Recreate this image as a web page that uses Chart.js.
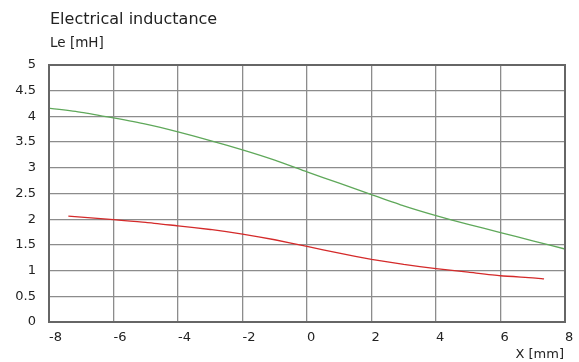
<!DOCTYPE html>
<html>
<head>
<meta charset="utf-8">
<script src="https://cdn.jsdelivr.net/npm/chart.js@4/dist/chart.umd.min.js"></script>
<style>
  html, body { margin: 0; padding: 0; background: #fff; }
  #wrap { width: 579px; height: 362px; position: relative; }
</style>
</head>
<body>
<div id="wrap"><canvas id="chart" width="579" height="362"></canvas></div>
<script>
const TITLE = 'Electrical inductance';
const Y_LABEL = 'Le [mH]';
const X_LABEL = 'X [mm]';

// positions along the gap, mm
const greenX = [-8, -7, -6, -5, -4, -3, -2, -1, 0, 1, 2, 3, 4, 5, 6, 7, 8];
const greenY = [4.16, 4.08, 3.97, 3.85, 3.70, 3.53, 3.35, 3.15, 2.92, 2.70, 2.48, 2.26, 2.07, 1.90, 1.74, 1.58, 1.42];

const redX = [-7.4, -7, -6, -5, -4, -3, -2, -1, 0, 1, 2, 3, 4, 5, 6, 7, 7.35];
const redY = [2.06, 2.04, 1.99, 1.94, 1.87, 1.80, 1.71, 1.60, 1.47, 1.34, 1.22, 1.12, 1.04, 0.97, 0.90, 0.86, 0.84];

const xTicks = [-8, -6, -4, -2, 0, 2, 4, 6, 8];
const yTicks = [0, 0.5, 1, 1.5, 2, 2.5, 3, 3.5, 4, 4.5, 5];

const FONT = 'Verdana, "DejaVu Sans", sans-serif';

const pts = (xs, ys) => xs.map((x, i) => ({ x, y: ys[i] }));

// frame + texts outside the plot
const decor = {
  id: 'decor',
  afterDraw(c) {
    const g = c.ctx, a = c.chartArea, sx = c.scales.x;
    g.save();
    g.strokeStyle = '#666';
    g.lineWidth = 2;
    g.strokeRect(a.left, a.top, a.right - a.left, a.bottom - a.top);
    g.fillStyle = '#222';
    g.textBaseline = 'alphabetic';
    g.textAlign = 'left';
    g.font = '16px ' + FONT;
    g.fillText(TITLE, 50, 24);
    g.font = '13.5px ' + FONT;
    g.fillText(Y_LABEL, 50, 47);
    // x tick labels sit to the right of their grid line
    g.font = '13px ' + FONT;
    xTicks.forEach(v => g.fillText(String(v), sx.getPixelForValue(v), a.bottom + 19));
    g.textAlign = 'right';
    g.fillText(X_LABEL, 564, 358);
    g.restore();
  }
};

new Chart(document.getElementById('chart').getContext('2d'), {
  type: 'line',
  data: {
    datasets: [
      { data: pts(greenX, greenY), borderColor: '#5fa85a', borderWidth: 1.3, pointRadius: 0, tension: 0.2, fill: false },
      { data: pts(redX, redY), borderColor: '#d42a2a', borderWidth: 1.3, pointRadius: 0, tension: 0.2, fill: false }
    ]
  },
  options: {
    responsive: false,
    animation: false,
    layout: { padding: { top: 65, right: 14, bottom: 0, left: 0 } },
    plugins: { legend: { display: false }, tooltip: { enabled: false } },
    scales: {
      x: {
        type: 'linear', min: -8, max: 8,
        afterFit: (s) => { s.height = 40; },
        afterBuildTicks: (s) => { s.ticks = xTicks.map(v => ({ value: v })); },
        grid: { color: '#8c8c8c', lineWidth: 1.3, drawTicks: false },
        border: { display: false },
        ticks: { display: false }
      },
      y: {
        type: 'linear', min: 0, max: 5,
        afterFit: (s) => { s.width = 49; },
        afterBuildTicks: (s) => { s.ticks = yTicks.map(v => ({ value: v })); },
        grid: { color: '#8c8c8c', lineWidth: 1.3, drawTicks: false },
        border: { display: false },
        ticks: { color: '#222', padding: 13, font: { family: FONT, size: 13 }, callback: (v) => String(v) }
      }
    }
  },
  plugins: [decor]
});
</script>
</body>
</html>
